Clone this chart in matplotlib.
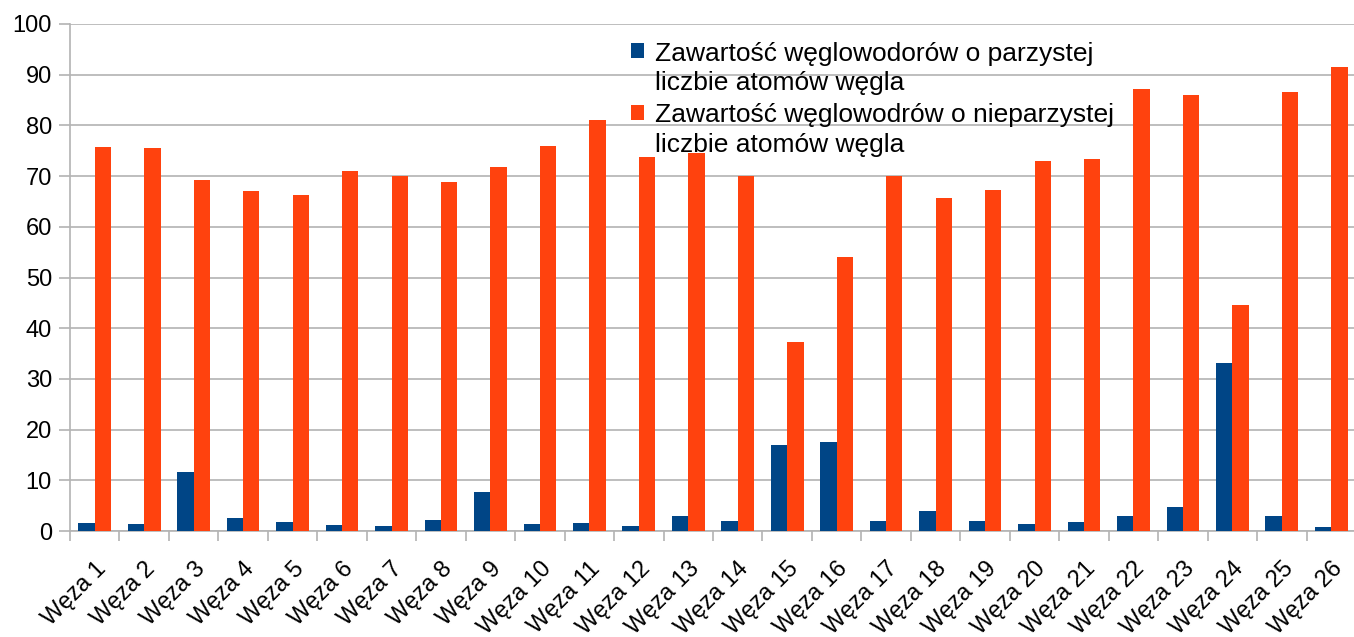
import numpy as np
import matplotlib.pyplot as plt
from matplotlib.patches import Rectangle
from matplotlib.legend_handler import HandlerPatch

plt.rcParams['font.family'] = ['Liberation Sans', 'DejaVu Sans']

# data
labels = ["Węza %d" % i for i in range(1, 27)]
even_c = [1.6, 1.4, 11.6, 2.6, 1.8, 1.2, 1.0, 2.2, 7.6, 1.4, 1.6, 1.0, 3.0,
          2.0, 17.0, 17.5, 2.0, 4.0, 2.0, 1.4, 1.8, 3.0, 4.8, 33.1, 3.0, 0.85]
odd_c = [75.7, 75.6, 69.3, 67.0, 66.3, 71.0, 70.1, 68.9, 71.7, 75.9, 81.1, 73.7, 74.6,
         70.1, 37.2, 54.1, 70.1, 65.6, 67.3, 72.9, 73.3, 87.1, 86.0, 44.6, 86.5, 91.6]
legend_labels = ["Zawartość węglowodorów o parzystej\nliczbie atomów węgla",
                 "Zawartość węglowodrów o nieparzystej\nliczbie atomów węgla"]

blue = "#004586"
orange = "#ff420e"
grid = "#b3b3b3"

fig = plt.figure(figsize=(13.54, 6.37), dpi=100)
ax = fig.add_axes([70/1354, 1-531/637, 1286/1354, 507/637])

x = np.arange(len(labels))
w = 0.33
b1 = ax.bar(x - w/2, even_c, width=w, color=blue, zorder=3)
b2 = ax.bar(x + w/2, odd_c, width=w, color=orange, zorder=3)

ax.set_xlim(-0.5, len(labels) - 0.5)
ax.set_ylim(0, 100)
ax.set_yticks(range(0, 101, 10))
ax.yaxis.grid(True, color=grid, linewidth=1.2, zorder=0)

ax.set_xticks(x)
ax.set_xticklabels(labels, rotation=45, ha='right', va='top', rotation_mode='anchor')
ax.set_xticks(np.arange(-0.5, len(labels), 1), minor=True)
ax.tick_params(axis='x', which='major', length=0, pad=19, labelsize=17)
ax.tick_params(axis='x', which='minor', length=7, width=1.2, color=grid)
ax.tick_params(axis='y', length=8, width=1.2, color=grid, labelsize=17, pad=5)

for s in ['top', 'right']:
    ax.spines[s].set_visible(False)
for s in ['left', 'bottom']:
    ax.spines[s].set_color(grid)
    ax.spines[s].set_linewidth(1.2)


# legend square sits next to the first line of each label
def top_square(legend, orig_handle, xdescent, ydescent, width, height, fontsize):
    return Rectangle((-xdescent, -ydescent + 13), width, height)


leg = fig.legend([b1.patches[0], b2.patches[0]], legend_labels,
                 loc='upper left', bbox_to_anchor=(620/1354, 1-31/637), frameon=False,
                 fontsize=19, handlelength=0.5, handleheight=0.5, handletextpad=0.42,
                 labelspacing=0.3, borderaxespad=0,
                 handler_map={Rectangle: HandlerPatch(patch_func=top_square)})
for t in leg.get_texts():
    t.set_linespacing(1.3)

fig.savefig("out.png", dpi=100)
